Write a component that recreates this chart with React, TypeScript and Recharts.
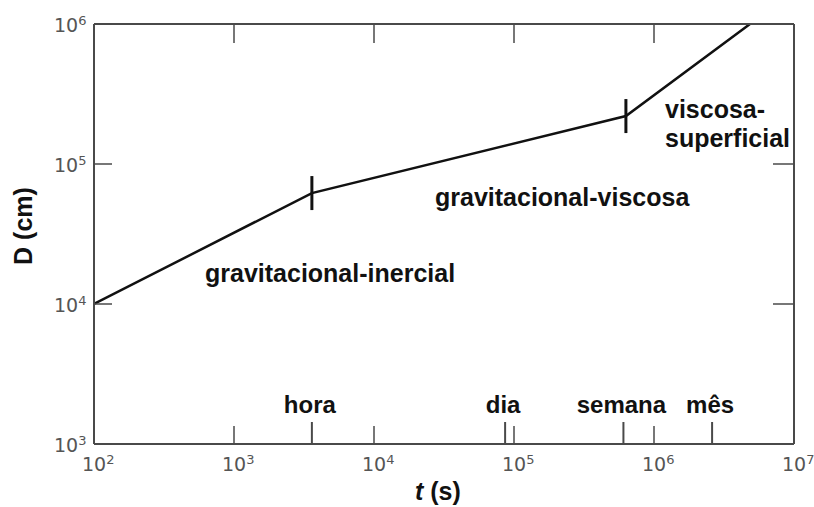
import React from 'react';
import { LineChart, Line, XAxis, YAxis } from 'recharts';

// Spreading distance D (cm) against time t (s), three regimes
const timeSeconds = [100, 3600, 630000, 4.85e6];
const distanceCm = [1e4, 62000, 220000, 1e6];
const regimeBreak = [false, true, true, false];

// Axis ticks
const decadeTicksX = [1e2, 1e3, 1e4, 1e5, 1e6, 1e7];
const decadeTicksY = [1e3, 1e4, 1e5, 1e6];
const innerTicksTop = [1e3, 1e4, 1e5, 1e6];
const innerTicksRight = [1e4, 1e5];

// Calendar reference marks on the time axis
const timeMarkNames = ['hora', 'dia', 'semana', 'mês'];
const timeMarkSeconds = [3600, 86400, 604800, 2.6e6];

const data = timeSeconds.map((t, i) => ({ t, D: distanceCm[i], brk: regimeBreak[i] }));
const bottomTicks = [...decadeTicksX, ...timeMarkSeconds].sort((a, b) => a - b);

const FRAME = '#4a4a4a';
const TICK_TEXT = '#555';
const BOLD = '"Liberation Sans", Arial, sans-serif';
const TICK_FONT = '"DejaVu Sans", sans-serif';

const exponent = (v: number) => Math.round(Math.log10(v));

const PowerText = ({ x, y, v }: { x: number; y: number; v: number }) => (
  <text x={x} y={y} fill={TICK_TEXT} fontFamily={TICK_FONT} fontSize={19}>
    10
    <tspan dy={-7} fontSize={13}>{exponent(v)}</tspan>
  </text>
);

const BottomTick = (props: any) => {
  const { x, y, payload } = props;
  const v = payload.value;
  const k = timeMarkSeconds.indexOf(v);
  if (k >= 0) {
    return (
      <g>
        <line x1={x} x2={x} y1={y} y2={y - 22} stroke={FRAME} strokeWidth={2} />
        <text x={x - 2} y={y - 31} textAnchor="middle" fontFamily={BOLD} fontWeight="bold" fontSize={24} fill="#111">
          {timeMarkNames[k]}
        </text>
      </g>
    );
  }
  return (
    <g>
      <line x1={x} x2={x} y1={y} y2={y - 18} stroke={FRAME} strokeWidth={1.5} />
      <PowerText x={x - 12} y={y + 27} v={v} />
    </g>
  );
};

const LeftTick = (props: any) => {
  const { x, y, payload } = props;
  return (
    <g>
      <line x1={x} x2={x + 18} y1={y} y2={y} stroke={FRAME} strokeWidth={1.5} />
      <PowerText x={x - 40} y={y + 8} v={payload.value} />
    </g>
  );
};

const TopTick = (props: any) => {
  const { x, y } = props;
  return <line x1={x} x2={x} y1={y} y2={y + 19} stroke={FRAME} strokeWidth={1.5} />;
};

const RightTick = (props: any) => {
  const { x, y } = props;
  return <line x1={x} x2={x - 21} y1={y} y2={y} stroke={FRAME} strokeWidth={1.5} />;
};

const BreakMark = (props: any) => {
  const { cx, cy, payload, index } = props;
  if (!payload.brk) return <g key={`m${index}`} />;
  return <line key={`m${index}`} x1={cx} x2={cx} y1={cy - 17} y2={cy + 17} stroke="#111" strokeWidth={3} />;
};

const labelStyle = { fontFamily: BOLD, fontWeight: 'bold' as const, fontSize: 25, fill: '#111' };

export default function App() {
  return (
    <div style={{ position: 'absolute', left: 0, top: 0, width: 814, height: 507, background: '#fff' }}>
      <LineChart width={814} height={507} data={data} margin={{ top: 0, right: 0, bottom: 0, left: 0 }}>
        <XAxis
          xAxisId="bottom"
          dataKey="t"
          type="number"
          scale="log"
          domain={[1e2, 1e7]}
          allowDataOverflow
          ticks={bottomTicks}
          interval={0}
          tickSize={0}
          tickMargin={0}
          tickLine={false}
          height={63}
          axisLine={{ stroke: FRAME, strokeWidth: 2 }}
          tick={<BottomTick />}
        />
        <XAxis
          xAxisId="top"
          orientation="top"
          dataKey="t"
          type="number"
          scale="log"
          domain={[1e2, 1e7]}
          allowDataOverflow
          ticks={innerTicksTop}
          interval={0}
          tickSize={0}
          tickMargin={0}
          tickLine={false}
          height={24}
          axisLine={{ stroke: FRAME, strokeWidth: 2 }}
          tick={<TopTick />}
        />
        <YAxis
          yAxisId="left"
          dataKey="D"
          type="number"
          scale="log"
          domain={[1e3, 1e6]}
          allowDataOverflow
          ticks={decadeTicksY}
          interval={0}
          tickSize={0}
          tickMargin={0}
          tickLine={false}
          width={94}
          axisLine={{ stroke: FRAME, strokeWidth: 2 }}
          tick={<LeftTick />}
        />
        <YAxis
          yAxisId="right"
          orientation="right"
          dataKey="D"
          type="number"
          scale="log"
          domain={[1e3, 1e6]}
          allowDataOverflow
          ticks={innerTicksRight}
          interval={0}
          tickSize={0}
          tickMargin={0}
          tickLine={false}
          width={20}
          axisLine={{ stroke: FRAME, strokeWidth: 2 }}
          tick={<RightTick />}
        />
        <Line
          xAxisId="top"
          yAxisId="right"
          dataKey="D"
          stroke="none"
          dot={false}
          activeDot={false}
          isAnimationActive={false}
        />
        <Line
          xAxisId="bottom"
          yAxisId="left"
          dataKey="D"
          stroke="#111"
          strokeWidth={2.5}
          dot={BreakMark}
          activeDot={false}
          isAnimationActive={false}
        />
      </LineChart>
      <svg width={814} height={507} style={{ position: 'absolute', left: 0, top: 0, pointerEvents: 'none' }}>
        <text x={205} y={282} {...labelStyle}>gravitacional-inercial</text>
        <text x={435} y={206} {...labelStyle}>gravitacional-viscosa</text>
        <text x={665} y={118} {...labelStyle}>viscosa-</text>
        <text x={665} y={147} {...labelStyle}>superficial</text>
        <text x={415} y={500} {...labelStyle}>
          <tspan fontStyle="italic">t</tspan> (s)
        </text>
        <text x={32} y={226} textAnchor="middle" transform="rotate(-90 32 226)" {...labelStyle}>
          D (cm)
        </text>
      </svg>
    </div>
  );
}
